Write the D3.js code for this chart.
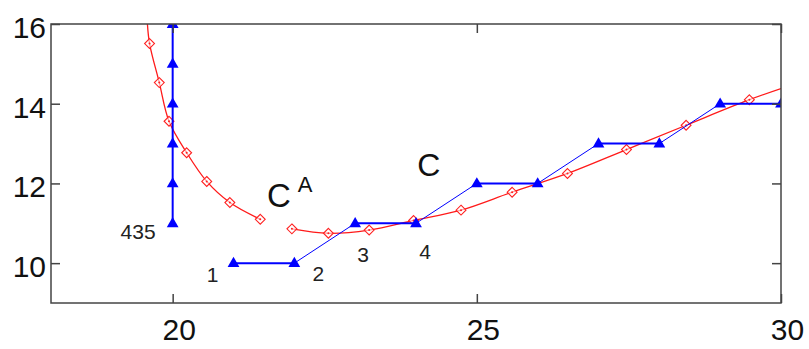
<!DOCTYPE html>
<html>
<head>
<meta charset="utf-8">
<script src="https://cdn.jsdelivr.net/npm/d3@7"></script>
<style>
  body { margin: 0; background: #fff; }
  svg { display: block; font-family: "Liberation Sans", Arial, sans-serif; }
</style>
</head>
<body>
<svg id="chart" width="809" height="349"></svg>
<script>
// blue stepped path (points 1..n)
const stairX = [21, 22, 23, 24, 25, 26, 27, 28, 29, 30];
const stairY = [10, 10, 11, 11, 12, 12, 13, 13, 14, 14];
// blue vertical run at x = 20 (point 435 at the bottom)
const vertX = [20, 20, 20, 20, 20, 20];
const vertY = [11, 12, 13, 14, 15, 16];

// red curve C^A (first point has no marker, it runs off the top)
const curveAX = [19.585, 19.62, 19.78, 19.94, 20.23, 20.56, 20.94, 21.44];
const curveAY = [16.0, 15.51, 14.53, 13.56, 12.77, 12.05, 11.52, 11.1];
// red curve C (last point has no marker, it runs off the right)
const curveCX = [21.96, 22.56, 23.23, 23.96, 24.74, 25.58, 26.49, 27.46, 28.44, 29.48, 30];
const curveCY = [10.86, 10.75, 10.83, 11.07, 11.33, 11.78, 12.25, 12.85, 13.46, 14.1, 14.38];

const xTicks = [20, 25, 30];
const yTicks = [10, 12, 14, 16];

const pointLabels = [
  { text: "435", x: 20, y: 11, dx: -17, dy: 16, anchor: "end" },
  { text: "1", x: 21, y: 10, dx: -21, dy: 19, anchor: "middle" },
  { text: "2", x: 22, y: 10, dx: 24, dy: 18, anchor: "middle" },
  { text: "3", x: 23, y: 11, dx: 8, dy: 39, anchor: "middle" },
  { text: "4", x: 24, y: 11, dx: 9, dy: 36, anchor: "middle" }
];

const svg = d3.select("#chart");
const margin = { top: 24, right: 28, bottom: 46, left: 51 };
const width = 809, height = 349;

const x = d3.scaleLinear().domain([18, 30]).range([margin.left, width - margin.right]);
const y = d3.scaleLinear().domain([9, 16]).range([height - margin.bottom, margin.top]);

svg.append("defs").append("clipPath").attr("id", "plot")
  .append("rect")
  .attr("x", x(18)).attr("y", y(16))
  .attr("width", x(30) - x(18)).attr("height", y(9) - y(16));

const plot = svg.append("g").attr("clip-path", "url(#plot)");

// red curves
const redLine = d3.line().x(d => x(d[0])).y(d => y(d[1])).curve(d3.curveCatmullRom);
const curveA = curveAX.map((v, i) => [v, curveAY[i]]);
const curveC = curveCX.map((v, i) => [v, curveCY[i]]);

[curveA, curveC].forEach(pts => {
  plot.append("path").datum(pts)
    .attr("d", redLine)
    .attr("fill", "none").attr("stroke", "#ff1a1a").attr("stroke-width", 1.3);
});

const diamond = d3.symbol().type(d3.symbolDiamond2).size(62);
const redMarks = curveA.slice(1).concat(curveC.slice(0, -1));
plot.selectAll(".dia").data(redMarks).join("path")
  .attr("transform", d => `translate(${x(d[0])},${y(d[1])})`)
  .attr("d", diamond)
  .attr("fill", "#fff").attr("fill-opacity", 0.6)
  .attr("stroke", "#ff2020").attr("stroke-width", 1.1);
plot.selectAll(".dot").data(redMarks).join("circle")
  .attr("cx", d => x(d[0])).attr("cy", d => y(d[1])).attr("r", 1)
  .attr("fill", "#ff2020");

// blue stair segments
const stair = stairX.map((v, i) => [v, stairY[i]]);
const segs = d3.pairs(stair);
plot.selectAll(".seg").data(segs).join("line")
  .attr("x1", d => x(d[0][0])).attr("y1", d => y(d[0][1]))
  .attr("x2", d => x(d[1][0])).attr("y2", d => y(d[1][1]))
  .attr("stroke", "#0000ff")
  .attr("stroke-width", d => d[0][1] === d[1][1] ? 2 : 1);

const vert = vertX.map((v, i) => [v, vertY[i]]);
plot.append("path").datum(vert)
  .attr("d", d3.line().x(d => x(d[0])).y(d => y(d[1])))
  .attr("fill", "none").attr("stroke", "#0000ff").attr("stroke-width", 2);

const tri = d3.symbol().type(d3.symbolTriangle).size(60);
plot.selectAll(".tri").data(stair.concat(vert)).join("path")
  .attr("transform", d => `translate(${x(d[0])},${y(d[1]) + 0.5})`)
  .attr("d", tri)
  .attr("fill", "#0000ff");

// frame and ticks
const axisColor = "#444";
svg.append("rect")
  .attr("x", x(18)).attr("y", y(16))
  .attr("width", x(30) - x(18)).attr("height", y(9) - y(16))
  .attr("fill", "none").attr("stroke", axisColor).attr("stroke-width", 1.5);

const tickLen = 9;
svg.append("g").attr("transform", `translate(0,${y(9)})`)
  .call(d3.axisBottom(x).tickValues(xTicks).tickSize(-tickLen).tickPadding(20).tickFormat(d3.format("d")))
  .call(g => g.select(".domain").remove())
  .call(g => g.selectAll("line").attr("stroke", axisColor).attr("stroke-width", 1.5))
  .call(g => g.selectAll("text").attr("font-size", 30).attr("fill", "#111")
    .attr("dx", 6).attr("dy", "0.55em").attr("font-family", "Liberation Sans, Arial, sans-serif"));

svg.append("g").attr("transform", `translate(0,${y(16)})`)
  .call(d3.axisTop(x).tickValues(xTicks).tickSize(-tickLen).tickFormat(""))
  .call(g => g.select(".domain").remove())
  .call(g => g.selectAll("line").attr("stroke", axisColor).attr("stroke-width", 1.5));

svg.append("g").attr("transform", `translate(${x(18)},0)`)
  .call(d3.axisLeft(y).tickValues(yTicks).tickSize(-tickLen).tickPadding(5).tickFormat(d3.format("d")))
  .call(g => g.select(".domain").remove())
  .call(g => g.selectAll("line").attr("stroke", axisColor).attr("stroke-width", 1.5))
  .call(g => g.selectAll("text").attr("font-size", 30).attr("fill", "#111")
    .attr("dy", "0.45em").attr("font-family", "Liberation Sans, Arial, sans-serif"));

svg.append("g").attr("transform", `translate(${x(30)},0)`)
  .call(d3.axisRight(y).tickValues(yTicks).tickSize(-tickLen).tickFormat(""))
  .call(g => g.select(".domain").remove())
  .call(g => g.selectAll("line").attr("stroke", axisColor).attr("stroke-width", 1.5));

// point labels
svg.selectAll(".plabel").data(pointLabels).join("text")
  .attr("x", d => x(d.x) + d.dx).attr("y", d => y(d.y) + d.dy)
  .attr("text-anchor", d => d.anchor)
  .attr("font-size", 21).attr("fill", "#222")
  .text(d => d.text);

// curve names
const ca = svg.append("text").attr("x", x(21.55)).attr("y", y(11.4))
  .attr("font-size", 33).attr("fill", "#111");
ca.append("tspan").text("C");
ca.append("tspan").attr("dx", 7).attr("dy", -15).attr("font-size", 22).text("A");

svg.append("text").attr("x", x(24.02)).attr("y", y(12.175))
  .attr("font-size", 32).attr("fill", "#111").text("C");
</script>
</body>
</html>
